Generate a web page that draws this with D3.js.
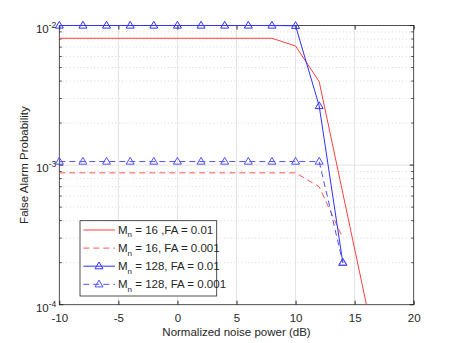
<!DOCTYPE html>
<html>
<head>
<meta charset="utf-8">
<script src="https://cdn.jsdelivr.net/npm/d3@7"></script>
<style>
body { margin: 0; background: #fff; }
text { font-family: "Liberation Sans", Arial, sans-serif; fill: #262626; }
</style>
</head>
<body>
<svg id="chart" width="457" height="343"></svg>
<script>
// x positions (dB)
var xRed = [-10, -8, -6, -4, -2, 0, 2, 4, 6, 8, 10, 12, 14, 16];
var xRedDash = [-10, -8, -6, -4, -2, 0, 2, 4, 6, 8, 10, 12, 14];
var xBlue = [-10, -8, -6, -4, -2, 0, 2, 4, 6, 8, 10, 12, 14];

// false alarm probability per series
var redSolid = [0.0081, 0.0081, 0.0081, 0.0081, 0.0081, 0.0081, 0.0081, 0.0081, 0.0081, 0.0081, 0.00713, 0.00396, 0.00063, 0.0001];
var redDashed = [0.00088, 0.00088, 0.00088, 0.00088, 0.00088, 0.00088, 0.00088, 0.00088, 0.00088, 0.00088, 0.00088, 0.0007, 0.0003];
var blueSolid = [0.01, 0.01, 0.01, 0.01, 0.01, 0.01, 0.01, 0.01, 0.01, 0.01, 0.00995, 0.00265, 0.0002];
var blueDashed = [0.00106, 0.00106, 0.00106, 0.00106, 0.00106, 0.00106, 0.00106, 0.00106, 0.00106, 0.00106, 0.00106, 0.00106, 0.0002];

var xTicks = [-10, -5, 0, 5, 10, 15, 20];
var yTicks = [1e-4, 1e-3, 1e-2];
var legendLabels = [" = 16 ,FA = 0.01", " = 16, FA = 0.001", " = 128, FA = 0.01", " = 128, FA = 0.001"];

var svg = d3.select("#chart"),
margin = {top: 25.5, right: 43.3, bottom: 38.3, left: 59.3},
width = +svg.attr("width") - margin.left - margin.right,
height = +svg.attr("height") - margin.top - margin.bottom,
g = svg.append("g").attr("transform", "translate(" + margin.left + "," + margin.top + ")");

var x = d3.scaleLinear().domain([-10, 20]).range([0, width]);
var y = d3.scaleLog().domain([1e-4, 1e-2]).range([height, 0]);

// minor y values
var minors = [];
[1e-4, 1e-3].forEach(function(d) {
  for (var k = 2; k <= 9; k++) minors.push(d * k);
});

// grid
g.selectAll(".minor-grid")
  .data(minors)
  .enter().append("line")
    .attr("x1", 0).attr("x2", width)
    .attr("y1", function(d) { return y(d); })
    .attr("y2", function(d) { return y(d); })
    .attr("stroke", "#c4c4c4")
    .attr("stroke-width", 0.7)
    .attr("stroke-dasharray", "1,2.5");

g.selectAll(".xgrid")
  .data(xTicks.slice(1, -1))
  .enter().append("line")
    .attr("x1", function(d) { return x(d); })
    .attr("x2", function(d) { return x(d); })
    .attr("y1", 0).attr("y2", height)
    .attr("stroke", "#e3e3e3");

g.selectAll(".ygrid")
  .data([1e-3])
  .enter().append("line")
    .attr("x1", 0).attr("x2", width)
    .attr("y1", function(d) { return y(d); })
    .attr("y2", function(d) { return y(d); })
    .attr("stroke", "#e3e3e3");

// axes box
g.append("rect")
  .attr("width", width).attr("height", height)
  .attr("fill", "none")
  .attr("stroke", "#262626")
  .attr("stroke-width", 0.8);

// x ticks bottom and top
g.append("g")
  .attr("transform", "translate(0," + height + ")")
  .call(d3.axisBottom(x).tickValues(xTicks).tickSize(-4).tickPadding(9).tickFormat(function(d) { return String(d); }))
  .call(function(a) {
    a.select(".domain").remove();
    a.selectAll("line").attr("stroke", "#262626");
    a.selectAll("text").attr("font-size", 11.5).attr("fill", "#262626");
  });
g.append("g")
  .call(d3.axisTop(x).tickValues(xTicks).tickSize(-4).tickFormat(""))
  .call(function(a) {
    a.select(".domain").remove();
    a.selectAll("line").attr("stroke", "#262626");
  });

// y ticks left and right (major + minor)
[0, width].forEach(function(px) {
  var dir = px === 0 ? 1 : -1;
  g.selectAll(null)
    .data(yTicks)
    .enter().append("line")
      .attr("x1", px).attr("x2", px + dir * 4)
      .attr("y1", function(d) { return y(d); })
      .attr("y2", function(d) { return y(d); })
      .attr("stroke", "#262626");
  g.selectAll(null)
    .data(minors)
    .enter().append("line")
      .attr("x1", px).attr("x2", px + dir * 2.5)
      .attr("y1", function(d) { return y(d); })
      .attr("y2", function(d) { return y(d); })
      .attr("stroke", "#262626")
      .attr("stroke-width", 0.8);
});

var ylab = g.selectAll(".ytick")
  .data(yTicks)
  .enter().append("text")
    .attr("x", -3)
    .attr("y", function(d) { return y(d) + 7; })
    .attr("text-anchor", "end")
    .attr("font-size", 11.5);
ylab.append("tspan").text("10");
ylab.append("tspan")
  .attr("dy", -5)
  .attr("font-size", 8.5)
  .text(function(d) { return String(Math.round(Math.log10(d))); });

// lines
g.append("clipPath").attr("id", "clip")
  .append("rect").attr("x", -1).attr("y", -1).attr("width", width + 2).attr("height", height + 2);

var line = d3.line()
  .x(function(d) { return x(d[0]); })
  .y(function(d) { return y(d[1]); });

var series = [
  {xs: xRed, ys: redSolid, color: "#ff4040", dash: null, marker: false},
  {xs: xRedDash, ys: redDashed, color: "#ff5555", dash: "6,4", marker: false},
  {xs: xBlue, ys: blueSolid, color: "#3030ff", dash: null, marker: true},
  {xs: xBlue, ys: blueDashed, color: "#5050ff", dash: "6,4", marker: true}
];

var tri = "M0,-4.2L4,2.6L-4,2.6Z";

series.forEach(function(s) {
  var pts = s.xs.map(function(v, i) { return [v, s.ys[i]]; });
  g.append("path")
    .datum(pts)
    .attr("clip-path", "url(#clip)")
    .attr("fill", "none")
    .attr("stroke", s.color)
    .attr("stroke-width", 1)
    .attr("stroke-dasharray", s.dash)
    .attr("d", line);
  if (s.marker) {
    g.selectAll(null)
      .data(pts)
      .enter().append("path")
        .attr("transform", function(d) { return "translate(" + x(d[0]) + "," + y(d[1]) + ")"; })
        .attr("d", tri)
        .attr("fill", "none")
        .attr("stroke", s.color)
        .attr("stroke-width", 1);
  }
});

// axis labels
svg.append("text")
  .attr("x", margin.left + width / 2)
  .attr("y", 336)
  .attr("text-anchor", "middle")
  .attr("font-size", 11.5)
  .text("Normalized noise power (dB)");

svg.append("text")
  .attr("transform", "translate(28," + (margin.top + height / 2) + ") rotate(-90)")
  .attr("text-anchor", "middle")
  .attr("font-size", 11.5)
  .text("False Alarm Probability");

// legend
var lg = svg.append("g").attr("transform", "translate(80,220.7)");
lg.append("rect")
  .attr("width", 136.7).attr("height", 75.3)
  .attr("fill", "#fff")
  .attr("stroke", "#262626")
  .attr("stroke-width", 0.8);

series.forEach(function(s, i) {
  var cy = 9.3 + i * 18.1;
  lg.append("line")
    .attr("x1", 3.3).attr("x2", 35)
    .attr("y1", cy).attr("y2", cy)
    .attr("stroke", s.color)
    .attr("stroke-dasharray", s.dash);
  if (s.marker) {
    lg.append("path")
      .attr("transform", "translate(19," + cy + ")")
      .attr("d", tri)
      .attr("fill", "none")
      .attr("stroke", s.color);
  }
  var t = lg.append("text")
    .attr("x", 38)
    .attr("y", cy + 4)
    .attr("font-size", 11.5)
    .attr("fill", "#000");
  t.append("tspan").text("M");
  t.append("tspan").attr("dy", 3.5).attr("font-size", 8).text("n");
  t.append("tspan").attr("dy", -3.5).text(legendLabels[i]);
});
</script>
</body>
</html>
